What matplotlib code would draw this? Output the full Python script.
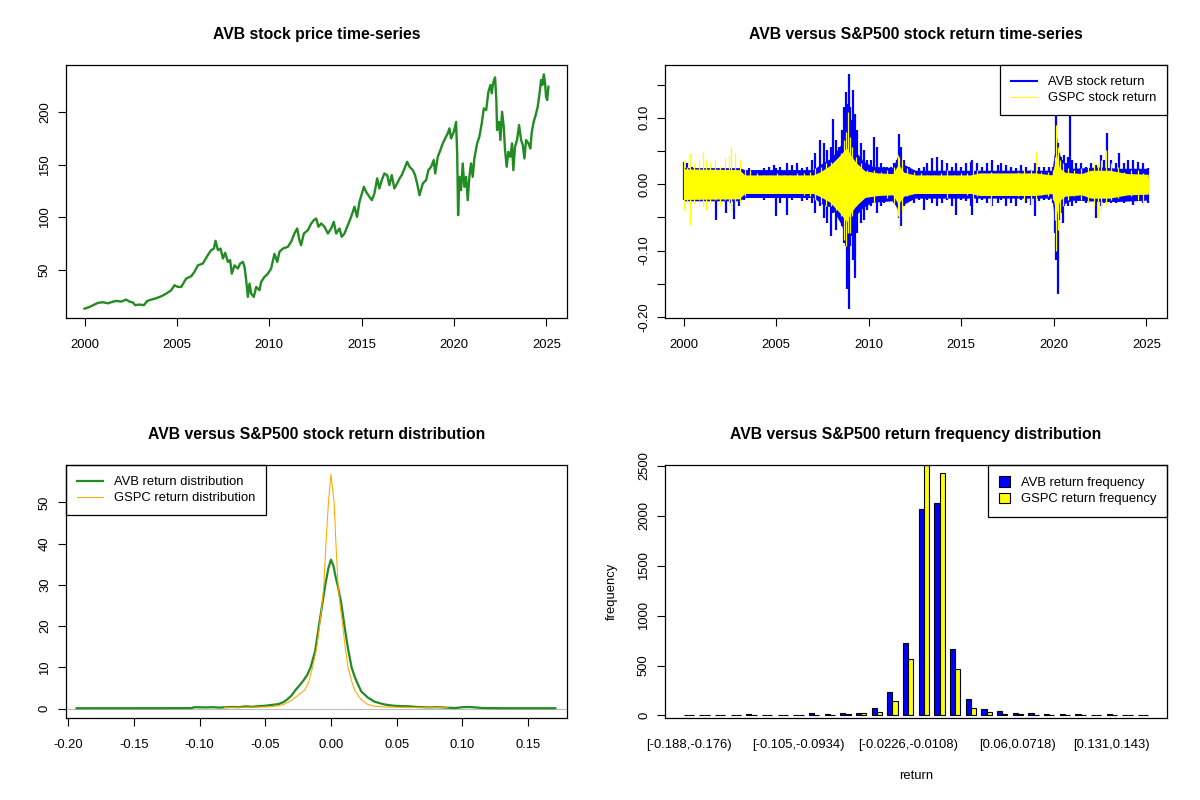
import matplotlib
matplotlib.use("Agg")
import matplotlib.pyplot as plt
from matplotlib.lines import Line2D
from matplotlib.patches import Rectangle

plt.rcParams['font.family'] = ['Liberation Sans', 'DejaVu Sans']

# ---------------- data ----------------
price_year = [2000.00, 2000.27, 2000.54, 2000.72, 2000.99, 2001.26, 2001.44, 2001.71, 2001.98, 2002.25,
              2002.44, 2002.62, 2002.74, 2002.98, 2003.21, 2003.39, 2003.61, 2003.88, 2004.15, 2004.42,
              2004.69, 2004.87, 2005.05, 2005.23, 2005.50, 2005.77, 2005.95, 2006.13, 2006.40, 2006.67,
              2006.85, 2007.00, 2007.09, 2007.22, 2007.36, 2007.49, 2007.61, 2007.76, 2007.88, 2007.97,
              2008.12, 2008.30, 2008.42, 2008.57, 2008.66, 2008.75, 2008.84, 2008.93, 2009.02, 2009.16,
              2009.29, 2009.47, 2009.56, 2009.74, 2009.92, 2010.10, 2010.28, 2010.43, 2010.55, 2010.73,
              2011.00, 2011.18, 2011.36, 2011.51, 2011.63, 2011.72, 2011.87, 2012.09, 2012.27, 2012.41,
              2012.54, 2012.66, 2012.81, 2012.99, 2013.17, 2013.35, 2013.49, 2013.62, 2013.80, 2013.92,
              2014.07, 2014.25, 2014.43, 2014.61, 2014.75, 2014.88, 2015.01, 2015.12, 2015.24, 2015.42,
              2015.55, 2015.69, 2015.84, 2015.96, 2016.09, 2016.23, 2016.38, 2016.50, 2016.63, 2016.77,
              2016.92, 2017.05, 2017.17, 2017.32, 2017.46, 2017.59, 2017.77, 2017.89, 2018.00, 2018.13,
              2018.31, 2018.49, 2018.61, 2018.76, 2018.90, 2018.98, 2019.12, 2019.26, 2019.39, 2019.52,
              2019.66, 2019.75, 2019.84, 2019.99, 2020.11, 2020.17, 2020.22, 2020.29, 2020.38, 2020.47,
              2020.56, 2020.65, 2020.74, 2020.83, 2020.92, 2021.01, 2021.10, 2021.25, 2021.37, 2021.50,
              2021.61, 2021.74, 2021.86, 2021.97, 2022.04, 2022.11, 2022.22, 2022.29, 2022.33, 2022.44,
              2022.51, 2022.60, 2022.69, 2022.76, 2022.85, 2022.94, 2023.05, 2023.14, 2023.21, 2023.30,
              2023.41, 2023.52, 2023.63, 2023.72, 2023.81, 2023.90, 2024.03, 2024.13, 2024.21, 2024.31,
              2024.42, 2024.53, 2024.64, 2024.71, 2024.78, 2024.86, 2024.93, 2024.98, 2025.04, 2025.11]
avb_price = [12.7, 14.3, 16.6, 18.2, 18.8, 17.8, 18.8, 20.1, 19.4, 21.3,
             19.4, 18.5, 16.0, 16.6, 16.0, 20.0, 21.3, 22.6, 24.5, 27.0,
             30.3, 35.0, 33.4, 33.4, 41.4, 43.6, 47.8, 54.0, 55.7, 63.7,
             68.5, 70.0, 77.4, 68.5, 70.0, 60.5, 66.0, 57.3, 59.0, 46.0,
             54.0, 51.0, 55.7, 57.3, 52.5, 39.8, 23.9, 36.6, 27.0, 23.9,
             33.4, 30.3, 38.2, 43.0, 46.0, 51.0, 65.0, 57.3, 66.9, 70.0,
             71.7, 76.4, 84.4, 89.2, 78.0, 73.2, 84.4, 87.6, 94.0, 97.1,
             98.7, 90.8, 94.0, 90.8, 84.4, 89.2, 95.5, 84.4, 89.2, 81.2,
             84.4, 92.4, 100.3, 110.0, 100.3, 114.6, 122.6, 129.0, 124.2, 119.4,
             116.2, 122.6, 137.0, 127.4, 135.4, 141.7, 140.1, 130.6, 140.1, 127.4,
             132.2, 137.0, 140.1, 146.5, 152.9, 148.1, 144.9, 140.1, 132.2, 121.0,
             132.2, 135.4, 144.9, 148.1, 154.5, 141.7, 157.6, 164.0, 170.4, 175.2,
             180.0, 184.7, 175.2, 181.5, 191.0, 160.8, 101.9, 138.5, 125.8, 151.3,
             129.0, 138.5, 116.2, 138.5, 151.3, 138.5, 156.0, 170.4, 176.8, 189.5,
             203.8, 202.2, 219.7, 226.1, 218.2, 227.7, 233.4, 211.8, 183.1, 191.0,
             173.6, 200.6, 186.3, 164.0, 148.1, 162.4, 157.6, 170.4, 144.9, 167.2,
             173.6, 187.9, 173.6, 168.8, 156.0, 173.6, 170.4, 165.6, 181.5, 191.0,
             197.5, 205.4, 219.7, 230.9, 226.1, 236.3, 227.7, 215.0, 211.8, 224.5]

# AVB daily return extremes (upper / lower) read along the time axis
avb_ret_year = [2000.00, 2000.18, 2000.45, 2000.72, 2000.99, 2001.26, 2001.53, 2001.77, 2001.98, 2002.29,
                2002.53, 2002.74, 2002.98, 2003.25, 2003.52, 2003.79, 2004.06, 2004.33, 2004.60, 2004.87,
                2005.01, 2005.23, 2005.59, 2005.86, 2006.13, 2006.40, 2006.67, 2006.94, 2007.12, 2007.36,
                2007.58, 2007.76, 2007.94, 2008.06, 2008.21, 2008.39, 2008.57, 2008.66, 2008.75, 2008.84,
                2008.91, 2008.98, 2009.05, 2009.16, 2009.27, 2009.38, 2009.56, 2009.74, 2009.92, 2010.10,
                2010.28, 2010.46, 2010.64, 2010.82, 2011.00, 2011.18, 2011.36, 2011.54, 2011.62, 2011.72,
                2011.90, 2012.18, 2012.45, 2012.72, 2012.99, 2013.17, 2013.44, 2013.71, 2013.98, 2014.25,
                2014.52, 2014.70, 2014.97, 2015.24, 2015.51, 2015.60, 2015.87, 2016.14, 2016.41, 2016.68,
                2016.96, 2017.14, 2017.41, 2017.68, 2017.95, 2018.22, 2018.49, 2018.76, 2018.98, 2019.21,
                2019.48, 2019.75, 2019.93, 2020.06, 2020.13, 2020.20, 2020.27, 2020.38, 2020.47, 2020.56,
                2020.65, 2020.74, 2020.85, 2020.96, 2021.19, 2021.46, 2021.74, 2022.01, 2022.28, 2022.55,
                2022.73, 2022.87, 2023.09, 2023.36, 2023.54, 2023.81, 2023.99, 2024.26, 2024.53, 2024.80,
                2025.11]
avb_ret_hi = [0.034, 0.0315, 0.0265, 0.0215, 0.019, 0.0215, 0.019, 0.024, 0.019, 0.0215,
              0.019, 0.0215, 0.019, 0.0215, 0.024, 0.019, 0.0215, 0.024, 0.0265, 0.029,
              0.024, 0.0265, 0.0315, 0.029, 0.0315, 0.024, 0.0265, 0.0365, 0.0465, 0.0665,
              0.0615, 0.0515, 0.0565, 0.099, 0.0665, 0.0565, 0.0815, 0.1165, 0.139, 0.1215,
              0.1655, 0.1165, 0.0965, 0.1415, 0.1065, 0.0815, 0.0615, 0.0515, 0.0365, 0.0365,
              0.0715, 0.0565, 0.0315, 0.0265, 0.0265, 0.0265, 0.0315, 0.0365, 0.0755, 0.0565,
              0.0365, 0.0265, 0.0215, 0.024, 0.0265, 0.0315, 0.039, 0.0415, 0.0365, 0.0315,
              0.0265, 0.0315, 0.0265, 0.0315, 0.034, 0.0365, 0.0315, 0.0265, 0.0315, 0.0365,
              0.029, 0.0315, 0.029, 0.0265, 0.024, 0.029, 0.0265, 0.0215, 0.0315, 0.0265,
              0.0265, 0.0265, 0.0265, 0.0265, 0.104, 0.0615, 0.0465, 0.0415, 0.0365, 0.044,
              0.0315, 0.0415, 0.1065, 0.0365, 0.0315, 0.0315, 0.0265, 0.0315, 0.029, 0.044,
              0.0365, 0.0765, 0.0365, 0.0315, 0.0465, 0.0315, 0.0365, 0.0365, 0.034, 0.0315,
              0.024]
avb_ret_lo = [-0.0235, -0.021, -0.021, -0.0235, -0.0185, -0.0235, -0.026, -0.0535, -0.0185, -0.0435,
              -0.0285, -0.0525, -0.0335, -0.0235, -0.021, -0.0185, -0.0135, -0.0235, -0.021, -0.021,
              -0.0485, -0.0285, -0.046, -0.0235, -0.021, -0.026, -0.0235, -0.0285, -0.0435, -0.0335,
              -0.051, -0.0585, -0.0785, -0.0435, -0.0685, -0.0335, -0.0635, -0.0885, -0.0935, -0.1585,
              -0.1875, -0.0935, -0.0785, -0.1135, -0.141, -0.0735, -0.0585, -0.0535, -0.0385, -0.0335,
              -0.0285, -0.0435, -0.0335, -0.0285, -0.0235, -0.026, -0.0285, -0.0335, -0.051, -0.0635,
              -0.0335, -0.0235, -0.0285, -0.0235, -0.0385, -0.0235, -0.0285, -0.0335, -0.0285, -0.0235,
              -0.0335, -0.046, -0.0235, -0.026, -0.0335, -0.046, -0.0285, -0.0235, -0.0285, -0.0335,
              -0.0285, -0.0235, -0.0335, -0.0285, -0.0335, -0.0235, -0.0285, -0.031, -0.0485, -0.026,
              -0.0235, -0.0235, -0.0285, -0.0735, -0.1135, -0.166, -0.0535, -0.0435, -0.0585, -0.0335,
              -0.0285, -0.0335, -0.0235, -0.0335, -0.0285, -0.0235, -0.0285, -0.0235, -0.051, -0.0335,
              -0.0285, -0.0235, -0.0285, -0.0285, -0.0235, -0.0285, -0.026, -0.031, -0.0235, -0.0285,
              -0.0285]
# band where AVB daily returns are dense
avb_core_year = [2000.0, 2003.0, 2003.3, 2007.0, 2007.5, 2008.0, 2008.5, 2008.8, 2009.0, 2009.3,
                 2009.7, 2010.2, 2011.3, 2011.6, 2011.9, 2012.5, 2019.9, 2020.15, 2020.25, 2020.5,
                 2021.0, 2022.5, 2023.5, 2025.1]
avb_core_hi = [0.025, 0.025, 0.022, 0.022, 0.032, 0.040, 0.060, 0.090, 0.070, 0.049,
               0.035, 0.027, 0.025, 0.045, 0.030, 0.021, 0.021, 0.070, 0.050, 0.030,
               0.024, 0.026, 0.024, 0.024]
avb_core_lo = [-0.025, -0.025, -0.020, -0.020, -0.030, -0.035, -0.060, -0.080, -0.070, -0.047,
               -0.035, -0.027, -0.025, -0.040, -0.030, -0.021, -0.021, -0.080, -0.050, -0.030,
               -0.024, -0.026, -0.026, -0.024]

# GSPC daily return extremes (upper / lower)
gspc_ret_year = [2000.00, 2000.18, 2000.32, 2000.54, 2000.81, 2001.05, 2001.23, 2001.44, 2001.71, 2001.98,
                 2002.25, 2002.44, 2002.58, 2002.80, 2003.07, 2003.34, 2003.61, 2003.97, 2004.33, 2004.69,
                 2005.05, 2005.41, 2005.77, 2006.13, 2006.49, 2006.85, 2007.12, 2007.40, 2007.67, 2007.94,
                 2008.21, 2008.48, 2008.66, 2008.78, 2008.87, 2008.98, 2009.11, 2009.29, 2009.56, 2009.92,
                 2010.28, 2010.64, 2011.00, 2011.36, 2011.58, 2011.65, 2011.81, 2012.09, 2012.45, 2012.81,
                 2013.17, 2013.53, 2013.89, 2014.25, 2014.61, 2014.97, 2015.33, 2015.64, 2015.87, 2016.23,
                 2016.59, 2016.96, 2017.32, 2017.68, 2018.04, 2018.40, 2018.76, 2019.03, 2019.30, 2019.66,
                 2019.93, 2020.06, 2020.13, 2020.20, 2020.31, 2020.47, 2020.74, 2021.10, 2021.46, 2021.83,
                 2022.19, 2022.37, 2022.55, 2022.82, 2023.09, 2023.45, 2023.81, 2024.17, 2024.53, 2024.80,
                 2025.11]
gspc_ret_hi = [0.0365, 0.0265, 0.0465, 0.0315, 0.0365, 0.049, 0.0365, 0.0315, 0.0365, 0.0265,
               0.039, 0.044, 0.0555, 0.0465, 0.0365, 0.024, 0.0215, 0.0165, 0.014, 0.014,
               0.0165, 0.014, 0.014, 0.0165, 0.0165, 0.019, 0.024, 0.0265, 0.0315, 0.034,
               0.0365, 0.0465, 0.0665, 0.079, 0.109, 0.0715, 0.0565, 0.0415, 0.0315, 0.0215,
               0.0215, 0.019, 0.0215, 0.0265, 0.044, 0.0415, 0.0365, 0.024, 0.019, 0.0165,
               0.014, 0.014, 0.0165, 0.0215, 0.014, 0.0165, 0.0165, 0.0375, 0.0215, 0.014,
               0.019, 0.014, 0.014, 0.014, 0.019, 0.0215, 0.024, 0.049, 0.019, 0.019,
               0.0215, 0.0415, 0.089, 0.0565, 0.0365, 0.0315, 0.024, 0.0215, 0.024, 0.0265,
               0.034, 0.0315, 0.0365, 0.0515, 0.0315, 0.0265, 0.019, 0.0215, 0.0215, 0.0165,
               0.0115]
gspc_ret_lo = [-0.0385, -0.0285, -0.061, -0.0285, -0.0235, -0.0335, -0.0385, -0.0285, -0.0235, -0.0335,
               -0.0235, -0.0335, -0.041, -0.036, -0.0285, -0.0185, -0.0135, -0.0135, -0.011, -0.011,
               -0.0135, -0.0135, -0.011, -0.0135, -0.016, -0.0185, -0.0235, -0.0285, -0.0335, -0.0335,
               -0.0385, -0.0485, -0.0835, -0.0935, -0.0735, -0.0735, -0.0485, -0.0335, -0.0235, -0.0185,
               -0.0285, -0.016, -0.021, -0.0285, -0.0485, -0.0695, -0.0385, -0.0185, -0.0135, -0.0135,
               -0.011, -0.0135, -0.0135, -0.021, -0.011, -0.0135, -0.016, -0.0235, -0.0185, -0.011,
               -0.036, -0.011, -0.011, -0.0135, -0.0185, -0.026, -0.0335, -0.0235, -0.016, -0.0185,
               -0.0235, -0.0535, -0.101, -0.0685, -0.0485, -0.0335, -0.0235, -0.0185, -0.0235, -0.0285,
               -0.0335, -0.051, -0.0385, -0.0335, -0.0235, -0.021, -0.016, -0.0185, -0.0235, -0.031,
               -0.0135]
# band where GSPC daily returns are dense
gspc_core_year = [2000.0, 2003.0, 2003.3, 2007.0, 2007.4, 2007.9, 2008.5, 2008.8, 2009.0, 2009.3,
                  2009.8, 2010.5, 2011.3, 2011.6, 2011.9, 2012.5, 2015.5, 2016.0, 2018.0, 2019.0,
                  2019.9, 2020.15, 2020.3, 2020.6, 2021.5, 2022.0, 2023.0, 2024.0, 2025.1]
gspc_core_hi = [0.023, 0.022, 0.014, 0.014, 0.019, 0.028, 0.045, 0.055, 0.045, 0.033,
                0.020, 0.017, 0.016, 0.030, 0.018, 0.014, 0.014, 0.017, 0.017, 0.017,
                0.014, 0.045, 0.025, 0.018, 0.016, 0.021, 0.021, 0.016, 0.015]
gspc_core_lo = [-0.023, -0.022, -0.014, -0.014, -0.019, -0.027, -0.045, -0.057, -0.045, -0.033,
                -0.020, -0.017, -0.016, -0.030, -0.018, -0.014, -0.014, -0.017, -0.017, -0.017,
                -0.014, -0.045, -0.025, -0.018, -0.016, -0.021, -0.021, -0.016, -0.015]

# kernel density estimates
avb_dens_x = [-0.1935, -0.15, -0.106, -0.104, -0.095, -0.090, -0.085, -0.080, -0.075, -0.070,
              -0.065, -0.060, -0.055, -0.050, -0.045, -0.040, -0.036, -0.033, -0.030, -0.027,
              -0.024, -0.021, -0.018, -0.0155, -0.012, -0.0092, -0.0065, -0.0043, -0.002, 0.0,
              0.002, 0.0035, 0.0054, 0.0065, 0.0076, 0.009, 0.0103, 0.013, 0.0157, 0.018,
              0.0198, 0.023, 0.028, 0.033, 0.040, 0.045, 0.050, 0.055, 0.060, 0.065,
              0.070, 0.075, 0.080, 0.085, 0.090, 0.095, 0.100, 0.105, 0.110, 0.115,
              0.130, 0.1707]
avb_dens_y = [0.1, 0.1, 0.12, 0.35, 0.3, 0.35, 0.25, 0.35, 0.4, 0.35,
              0.55, 0.45, 0.6, 0.7, 0.9, 1.1, 1.6, 2.3, 3.2, 4.5,
              5.6, 6.8, 8.2, 10.0, 14.0, 20.0, 25.5, 30.0, 34.0, 36.1,
              34.5, 32.0, 29.5, 27.6, 26.0, 23.0, 20.0, 14.5, 10.0, 7.8,
              6.4, 4.2, 2.7, 1.7, 1.06, 0.8, 0.65, 0.6, 0.55, 0.4,
              0.35, 0.3, 0.35, 0.3, 0.2, 0.15, 0.35, 0.4, 0.3, 0.15,
              0.1, 0.1]
gspc_dens_x = [-0.081, -0.07, -0.06, -0.05, -0.045, -0.040, -0.036, -0.030, -0.026, -0.024,
               -0.020, -0.017, -0.014, -0.011, -0.0087, -0.0065, -0.0054, -0.0038, -0.0019, 0.0,
               0.0024, 0.0038, 0.0054, 0.007, 0.009, 0.011, 0.013, 0.016, 0.018, 0.020,
               0.023, 0.028, 0.033, 0.040, 0.050, 0.060, 0.070, 0.080, 0.089]
gspc_dens_y = [0.3, 0.3, 0.35, 0.4, 0.5, 0.7, 1.0, 2.0, 3.0, 3.5,
               4.5, 6.4, 10.0, 14.5, 20.0, 26.0, 30.0, 40.0, 50.0, 56.8,
               50.0, 40.0, 30.0, 25.0, 20.0, 14.5, 10.0, 6.4, 4.5, 3.5,
               2.2, 1.0, 0.6, 0.4, 0.35, 0.3, 0.3, 0.3, 0.3]

# return frequency table (30 bins)
bin_labels = ["[-0.188,-0.176)", "[-0.176,-0.164)", "[-0.164,-0.153)", "[-0.153,-0.141)",
              "[-0.141,-0.129)", "[-0.129,-0.117)", "[-0.117,-0.105)", "[-0.105,-0.0934)",
              "[-0.0934,-0.0817)", "[-0.0817,-0.0699)", "[-0.0699,-0.058)", "[-0.058,-0.0462)",
              "[-0.0462,-0.0344)", "[-0.0344,-0.0226)", "[-0.0226,-0.0108)", "[-0.0108,0.00102)",
              "[0.00102,0.0128)", "[0.0128,0.0247)", "[0.0247,0.0365)", "[0.0365,0.0483)",
              "[0.0483,0.06)", "[0.06,0.0718)", "[0.0718,0.0837)", "[0.0837,0.0955)",
              "[0.0955,0.107)", "[0.107,0.119)", "[0.119,0.131)", "[0.131,0.143)",
              "[0.143,0.155)", "[0.155,0.166]"]
shown_labels = [0, 7, 14, 21, 27]
avb_freq = [0, 0, 0, 0, 12, 0, 0, 8, 20, 10,
            30, 30, 80, 240, 730, 2070, 2130, 670, 165, 65,
            45, 27, 25, 12, 12, 10, 2, 10, 0, 0]
gspc_freq = [0, 0, 0, 0, 1, 0, 0, 1, 2, 2,
             10, 20, 40, 150, 570, 2510, 2430, 470, 80, 35,
             15, 12, 5, 3, 3, 2, 0, 2, 0, 0]

# ---------------- helpers ----------------
W, H = 1200, 800
FS = 9.4
fig = plt.figure(figsize=(12, 8), dpi=100)


def make_ax(l, t, r, b):
    return fig.add_axes([l / W, 1 - b / H, (r - l) / W, (b - t) / H])


def rpad(lo, hi):
    d = hi - lo
    return lo - 0.04 * d, hi + 0.04 * d


def style(ax, title):
    for s in ax.spines.values():
        s.set_linewidth(0.9)
        s.set_color('black')
        s.set_zorder(10)
    ax.tick_params(direction='out', length=5.8, width=0.8, labelsize=FS,
                   top=False, right=False, colors='black')
    ax.tick_params(axis='x', pad=9.3)
    ax.tick_params(axis='y', pad=5, labelrotation=90)
    ax.text(0.5, 1.12, title, transform=ax.transAxes, ha='center', va='center',
            fontsize=11.3, fontweight='bold')


def fix_ylabels(ax):
    for lbl in ax.get_yticklabels():
        lbl.set_va('center')


LEG = dict(borderaxespad=0, fancybox=False, framealpha=1, edgecolor='black',
           fontsize=FS, handletextpad=0.8, labelspacing=0.3, borderpad=0.85)

# ---------------- panel 1: price ----------------
ax1 = make_ax(66, 65, 567, 318)
ax1.plot(price_year, avb_price, color='#228B22', lw=1.7)
ax1.set_xlim(*rpad(min(price_year), max(price_year)))
ax1.set_ylim(*rpad(min(avb_price), max(avb_price)))
ax1.set_xticks([2000, 2005, 2010, 2015, 2020, 2025])
ax1.set_yticks([50, 100, 150, 200])
style(ax1, 'AVB stock price time-series')
fix_ylabels(ax1)

# ---------------- panel 2: returns ----------------
ax2 = make_ax(665, 65, 1167, 318)
ax2.fill_between(avb_core_year, avb_core_lo, avb_core_hi, color='blue', lw=0, zorder=2)
ax2.vlines(avb_ret_year, avb_ret_lo, avb_ret_hi, color='blue', lw=1.6, zorder=2)
ax2.fill_between(gspc_core_year, gspc_core_lo, gspc_core_hi, color='yellow', lw=0, zorder=3)
ax2.vlines(gspc_ret_year, gspc_ret_lo, gspc_ret_hi, color='yellow', lw=0.9, zorder=4)
ax2.set_xlim(*rpad(min(price_year), max(price_year)))
ax2.set_ylim(*rpad(min(avb_ret_lo), max(avb_ret_hi)))
ax2.set_xticks([2000, 2005, 2010, 2015, 2020, 2025])
ret_ticks = [-0.20, -0.15, -0.10, -0.05, 0.0, 0.05, 0.10, 0.15]
ax2.set_yticks(ret_ticks)
ax2.set_yticklabels(['-0.20', '', '-0.10', '', '0.00', '', '0.10', ''])
style(ax2, 'AVB versus S&P500 stock return time-series')
fix_ylabels(ax2)
leg2 = ax2.legend([Line2D([], [], color='blue', lw=1.5), Line2D([], [], color='yellow', lw=0.75)],
                  ['AVB stock return', 'GSPC stock return'], loc='upper right',
                  handlelength=2.0, **LEG)
leg2.get_frame().set_linewidth(0.9)
leg2.set_zorder(20)

# ---------------- panel 3: densities ----------------
ax3 = make_ax(66, 465, 567, 718)
ax3.axhline(0, color='#BEBEBE', lw=0.8)
ax3.plot(avb_dens_x, avb_dens_y, color='#228B22', lw=1.6)
ax3.plot(gspc_dens_x, gspc_dens_y, color='orange', lw=0.75)
ax3.set_xlim(*rpad(min(avb_ret_lo), max(avb_ret_hi)))
ax3.set_ylim(*rpad(0, max(gspc_dens_y)))
ax3.set_xticks([-0.20, -0.15, -0.10, -0.05, 0.0, 0.05, 0.10, 0.15])
ax3.set_xticklabels(['-0.20', '-0.15', '-0.10', '-0.05', '0.00', '0.05', '0.10', '0.15'])
ax3.set_yticks([0, 10, 20, 30, 40, 50])
style(ax3, 'AVB versus S&P500 stock return distribution')
fix_ylabels(ax3)
leg3 = ax3.legend([Line2D([], [], color='#228B22', lw=1.6), Line2D([], [], color='orange', lw=0.75)],
                  ['AVB return distribution', 'GSPC return distribution'], loc='upper left',
                  handlelength=2.0, **LEG)
leg3.get_frame().set_linewidth(0.9)

# ---------------- panel 4: frequency bars ----------------
ax4 = make_ax(665, 465, 1167, 718)
nb = len(avb_freq)
blue_left = [3 * i + 1 for i in range(nb)]
yel_left = [3 * i + 2 for i in range(nb)]
ax4.bar(blue_left, avb_freq, width=1, align='edge', color='blue', edgecolor='black', lw=0.8)
ax4.bar(yel_left, gspc_freq, width=1, align='edge', color='yellow', edgecolor='black', lw=0.8)
ax4.set_xlim(*rpad(1, 3 * nb))
top = max(max(avb_freq), max(gspc_freq))
ax4.set_ylim(-0.01 * top, top)
ax4.set_yticks([0, 500, 1000, 1500, 2000, 2500])
ax4.set_xticks([])
style(ax4, 'AVB versus S&P500 return frequency distribution')
fix_ylabels(ax4)
trans = ax4.get_xaxis_transform()
for i in shown_labels:
    ax4.text(3 * i + 2, -27 / 253, bin_labels[i], transform=trans, ha='center', va='center',
             fontsize=FS)
ax4.text(0.5, -58 / 253, 'return', transform=ax4.transAxes, ha='center', va='center', fontsize=FS)
ax4.text(-53 / 502, 0.5, 'frequency', transform=ax4.transAxes, ha='center', va='center',
         rotation=90, fontsize=FS)
leg4 = ax4.legend([Rectangle((0, 0), 1, 1, facecolor='blue', edgecolor='black', lw=0.8),
                   Rectangle((0, 0), 1, 1, facecolor='yellow', edgecolor='black', lw=0.8)],
                  ['AVB return frequency', 'GSPC return frequency'], loc='upper right',
                  handlelength=0.85, handleheight=0.85, **LEG)
leg4.get_frame().set_linewidth(0.9)

fig.savefig('out.png', dpi=100, facecolor='white')
